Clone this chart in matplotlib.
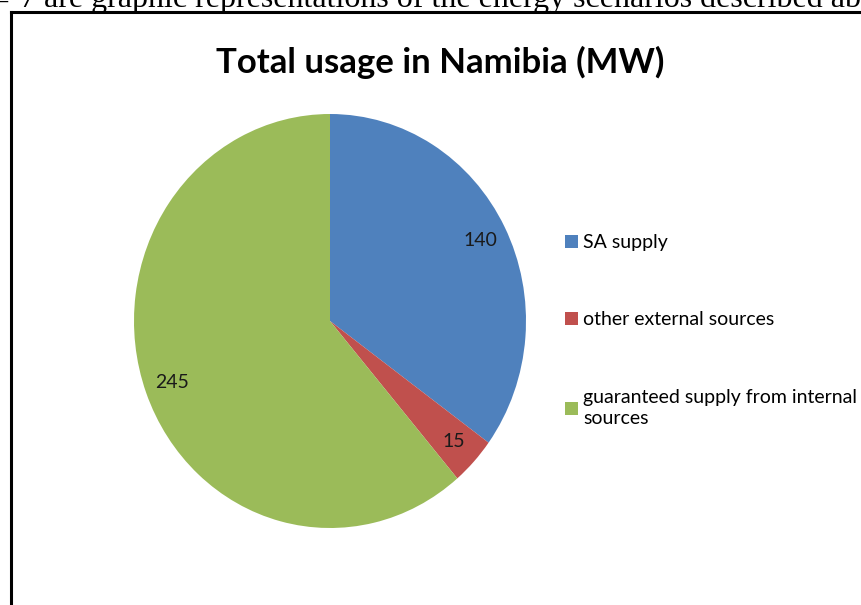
import matplotlib.pyplot as plt
from matplotlib.lines import Line2D

# data
labels = ['SA supply', 'other external sources',
          'guaranteed supply from internal\nsources']
values = [140, 15, 245]
colors = ['#4F81BD', '#C0504D', '#9BBB59']

W, H = 861, 605
fig = plt.figure(figsize=(W / 100, H / 100), dpi=100)
fig.patch.set_facecolor('white')

# cut-off line of body text above the chart
fig.text(7 / W, 1 - 9 / H, '\u2013', family='Liberation Serif', fontsize=23,
         va='baseline', ha='right')
fig.text(20 / W, 1 - 7 / H,
         '7 are graphic representations of the energy scenarios described above',
         family='Liberation Serif', fontsize=23, va='baseline', ha='left')

# chart frame (left and top edges visible only)
fig.add_artist(Line2D([11 / W, 11 / W], [0, 1 - 12 / H], color='black', lw=2.2))
fig.add_artist(Line2D([11 / W, 1], [1 - 12 / H, 1 - 12 / H], color='black', lw=2.2))

fig.text(440 / W, 1 - 73 / H, 'Total usage in Namibia (MW)',
         family='Lato', weight='bold', fontsize=25, ha='center', va='baseline')

# pie, slightly taller than wide as in the reference
cx, cy, rx, ry = 330, 321, 196, 207
ax = fig.add_axes([(cx - rx) / W, (H - cy - ry) / H, 2 * rx / W, 2 * ry / H])
wedges, texts = ax.pie(values, colors=colors, startangle=90, counterclock=False,
                       labels=[str(v) for v in values], labeldistance=0.86,
                       textprops=dict(family='Lato', fontsize=14, color='#1a1a1a',
                                      ha='center', va='center'))
ax.set_aspect('auto')
ax.set_xlim(-1, 1)
ax.set_ylim(-1, 1)
ax.axis('off')

leg = fig.legend(wedges, labels, loc='upper left',
                 bbox_to_anchor=(565 / W, 1 - 234 / H),
                 frameon=False, prop=dict(family='Lato', size=14),
                 handlelength=0.65, handleheight=0.65, handletextpad=0.3,
                 labelspacing=3.1, borderaxespad=0, borderpad=0)
for t in leg.get_texts():
    t.set_linespacing(1.35)

fig.savefig('out.png', dpi=100)
